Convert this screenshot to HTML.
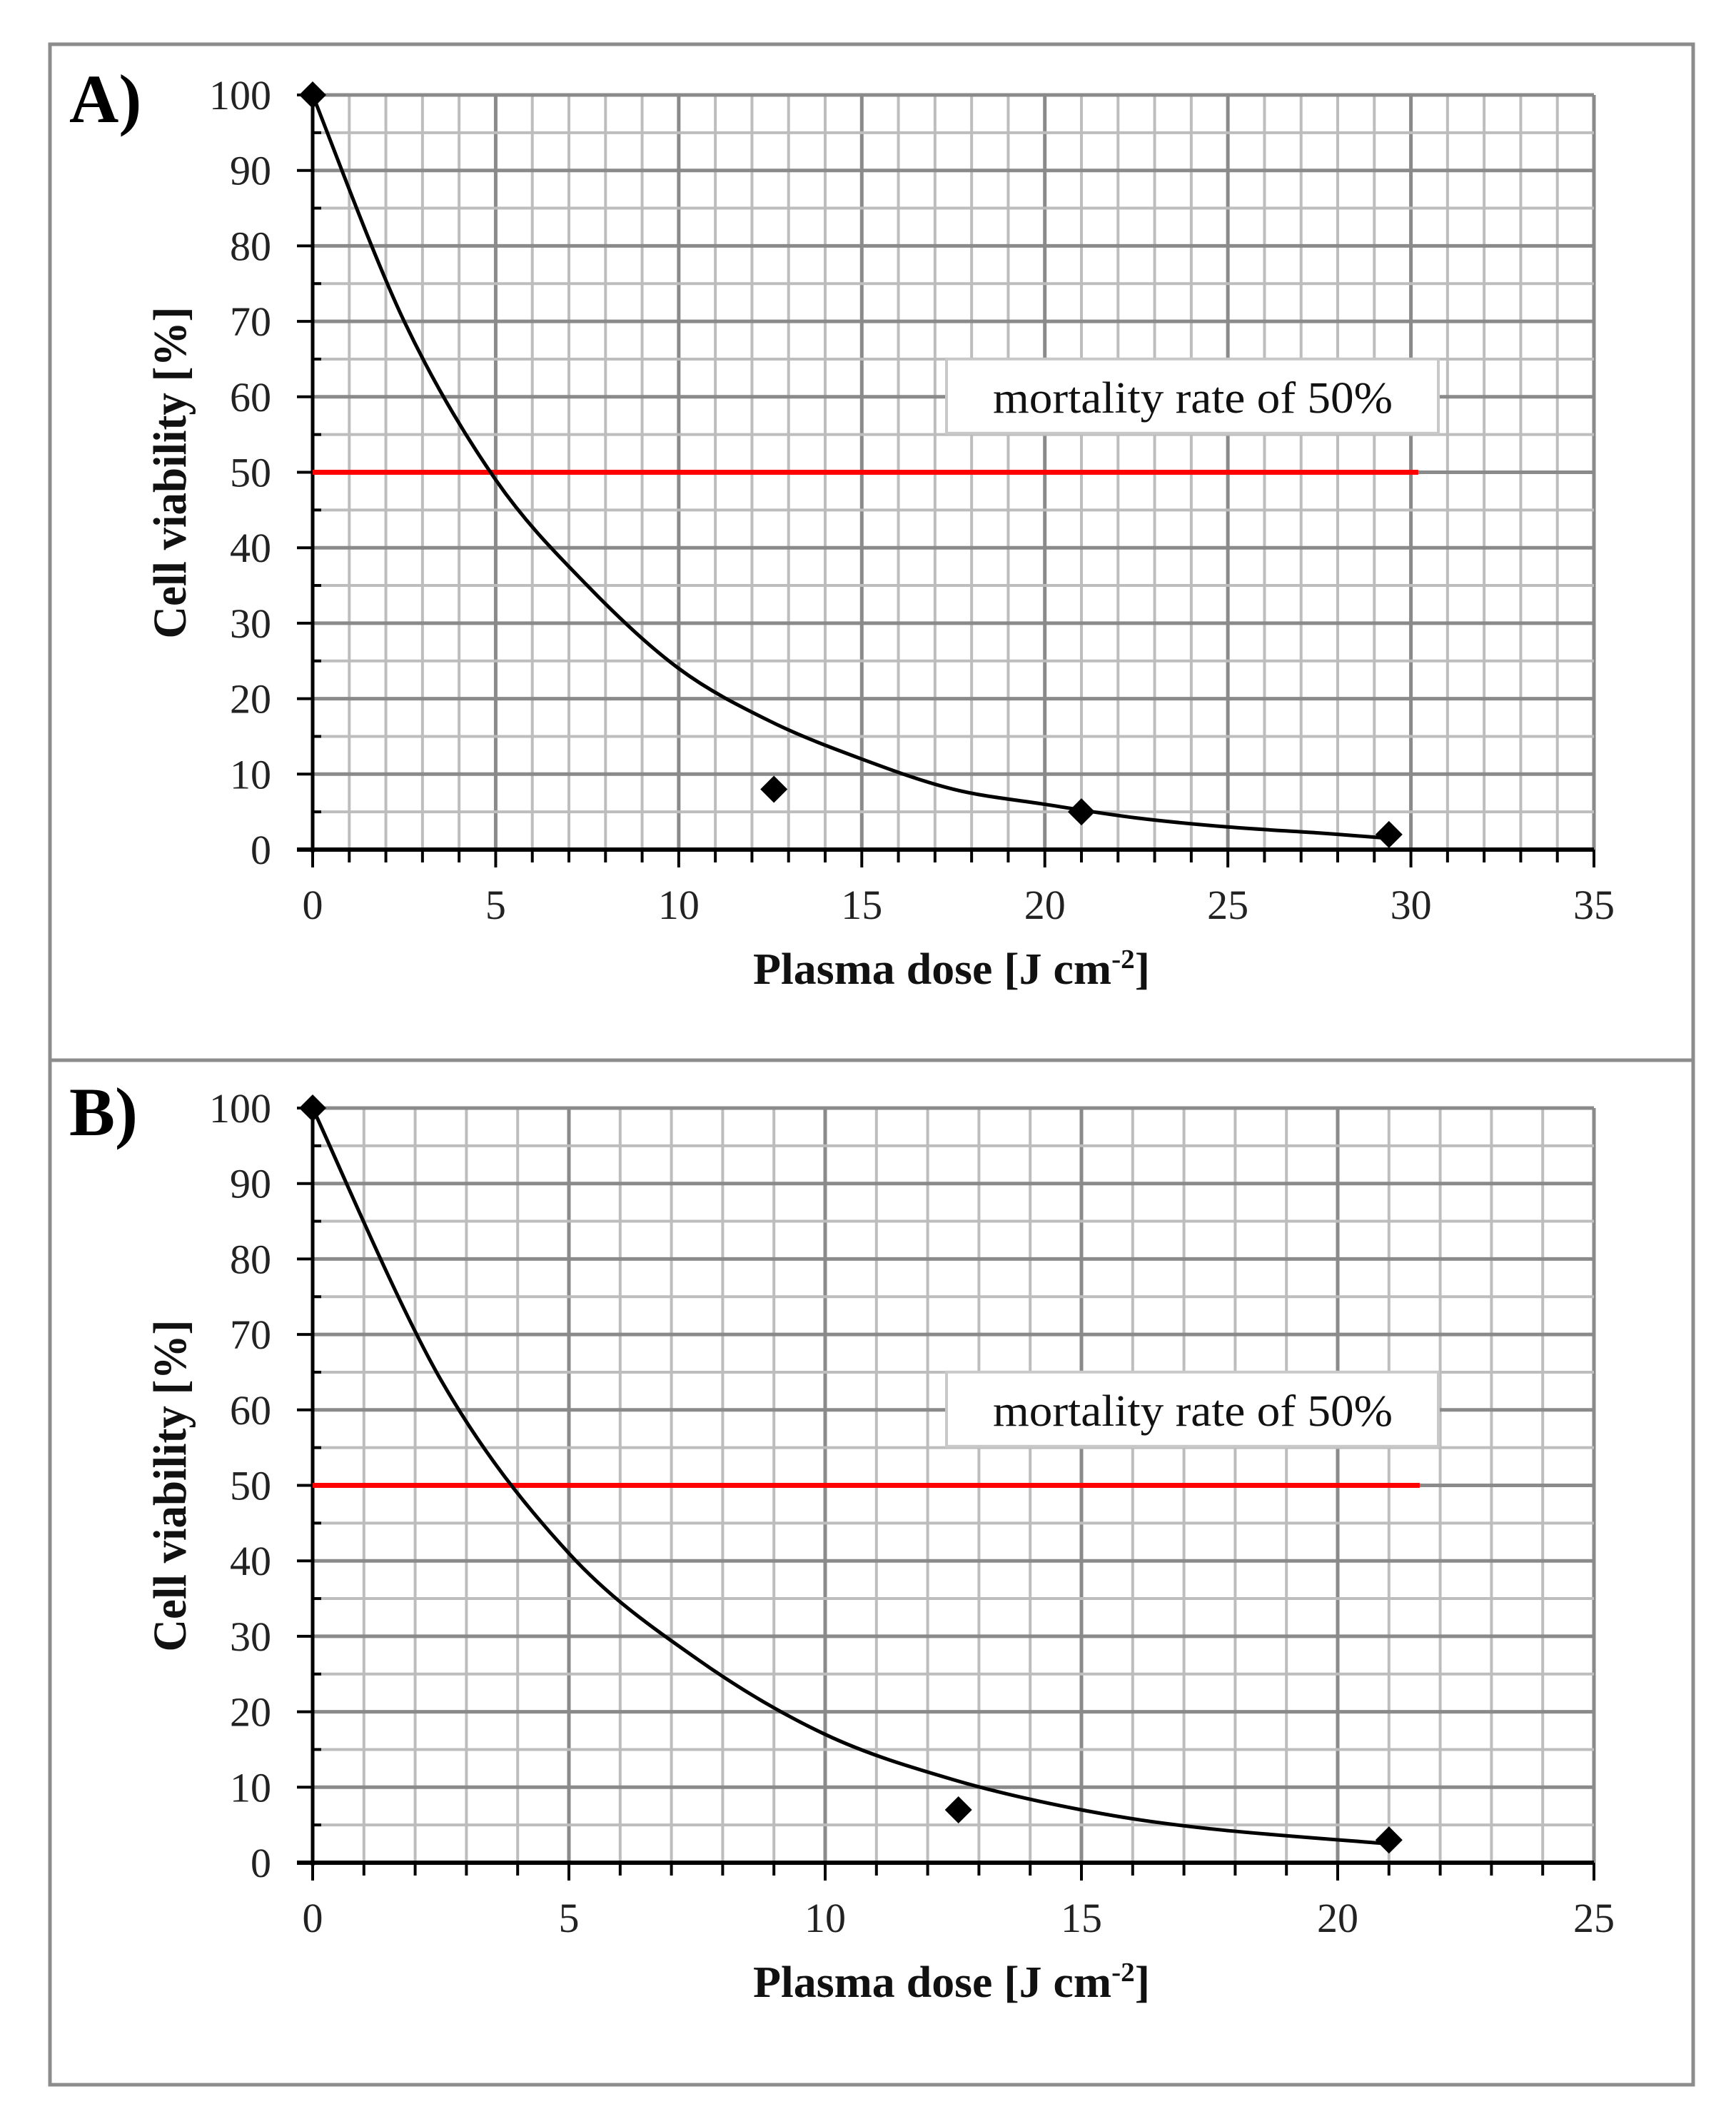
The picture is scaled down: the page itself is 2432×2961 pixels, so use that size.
<!DOCTYPE html>
<html><head><meta charset="utf-8"><style>
html,body{margin:0;padding:0;background:#fff;}
svg{display:block;}
text{font-family:"Liberation Serif",serif;}
</style></head><body>
<svg id="fig" width="2432" height="2961" viewBox="0 0 2432 2961" xmlns="http://www.w3.org/2000/svg">
<rect x="70" y="62" width="2302" height="2858" fill="none" stroke="#8c8c8c" stroke-width="5"/>
<line x1="70" y1="1485" x2="2372" y2="1485" stroke="#8c8c8c" stroke-width="5"/>
<g id="panelA"></g>
<g id="panelB"></g>
</svg>
<script>
// Panel A data
const aXTicks = [0,5,10,15,20,25,30,35];
const aYTicks = [0,10,20,30,40,50,60,70,80,90,100];
const aPointsX = [0,12.6,21,29.4];
const aPointsY = [100,8,5,2];
const aCurveX = [0,2.5,5,7.5,10,12.5,15,17.5,20,22.5,25,27.5,29.4];
const aCurveY = [100,70,49,35,24,17,12,8,6,4.2,3,2.2,1.5];
const aThresholdY = [50];
const aThresholdX = [0,30.2];
// Panel B data
const bXTicks = [0,5,10,15,20,25];
const bYTicks = [0,10,20,30,40,50,60,70,80,90,100];
const bPointsX = [0,12.6,21];
const bPointsY = [100,7,3];
const bCurveX = [0,2.5,5,7.5,10,12.5,15,17.5,21];
const bCurveY = [100,64,41,27,17,11,7,4.5,2.5];
const bThresholdY = [50];
const bThresholdX = [0,21.6];

const NS="http://www.w3.org/2000/svg";
function mk(tag,attrs,parent){const e=document.createElementNS(NS,tag);for(const k in attrs)e.setAttribute(k,attrs[k]);parent.appendChild(e);return e;}

function panel(g,label,xTicks,yTicks,px,py,cx,cy,thY,thX,top){
  const left=438,right=2233,bottom=top+1057;
  const xmax=xTicks[xTicks.length-1], ymax=yTicks[yTicks.length-1];
  const X=v=>left+(right-left)*v/xmax;
  const Y=v=>bottom-(bottom-top)*v/ymax;
  for(let v=0;v<=xmax;v+=1){
    const major=v%5===0;
    const l=mk('line',{x1:X(v),y1:top,x2:X(v),y2:bottom,stroke:major?'#8a8a8a':'#bdbdbd','stroke-width':major?5:4},g);
    
    
  }
  for(let v=0;v<=ymax;v+=5){
    const major=v%10===0;
    const l=mk('line',{x1:left,y1:Y(v),x2:right,y2:Y(v),stroke:major?'#8a8a8a':'#bdbdbd','stroke-width':major?5:4},g);
    
    
  }
  const ya=mk('line',{x1:left,y1:top,x2:left,y2:bottom+4,stroke:'#000','stroke-width':5},g);
  
  
  const xa=mk('line',{x1:left-22,y1:bottom,x2:right,y2:bottom,stroke:'#000','stroke-width':6},g);
  
  
  for(let v=0;v<=xmax;v+=1){
    const major=v%5===0;
    const t=mk('line',{x1:X(v),y1:bottom,x2:X(v),y2:bottom+(major?25:18),stroke:'#000','stroke-width':4},g);
    
    
  }
  xTicks.forEach(v=>{
    const t=mk('text',{x:X(v),y:bottom+97,'font-size':58,'text-anchor':'middle',fill:'#222'},g);
    t.textContent=v;
    
    
  });
  for(let v=0;v<=ymax;v+=5){
    const major=v%10===0;
    const t=mk('line',{x1:major?left-22:left,y1:Y(v),x2:major?left:left+12,y2:Y(v),stroke:'#000','stroke-width':4},g);
    
    
  }
  yTicks.forEach(v=>{
    const t=mk('text',{x:left-58,y:Y(v)+20,'font-size':58,'text-anchor':'end',fill:'#222'},g);
    t.textContent=v;
    
    
  });
  const bx=mk('rect',{x:1326,y:Y(60)-53,width:689,height:104,fill:'#fff',stroke:'#c8c8c8','stroke-width':4},g);
  
  
  const at=mk('text',{x:1391,y:Y(60)+22,'font-size':62,textLength:560,lengthAdjust:'spacingAndGlyphs',fill:'#111'},g);
  at.textContent='mortality rate of 50%';
  
  
  const th=mk('line',{x1:X(thX[0]),y1:Y(thY[0]),x2:X(thX[1]),y2:Y(thY[0]),stroke:'#ff0000','stroke-width':7},g);
  
  
  const P=cx.map((v,i)=>[X(v),Y(cy[i])]);
  let d=`M${P[0][0]},${P[0][1]}`;
  for(let i=0;i<P.length-1;i++){
    const p0=P[i-1]||P[i],p1=P[i],p2=P[i+1],p3=P[i+2]||P[i+1];
    const c1=[p1[0]+(p2[0]-p0[0])/6,p1[1]+(p2[1]-p0[1])/6];
    const c2=[p2[0]-(p3[0]-p1[0])/6,p2[1]-(p3[1]-p1[1])/6];
    d+=` C${c1[0]},${c1[1]} ${c2[0]},${c2[1]} ${p2[0]},${p2[1]}`;
  }
  const cv=mk('path',{d:d,fill:'none',stroke:'#000','stroke-width':5},g);
  
  
  px.forEach((v,i)=>{
    const x=X(v),y=Y(py[i]),s=19;
    const m=mk('polygon',{points:`${x},${y-s} ${x+s},${y} ${x},${y+s} ${x-s},${y}`,fill:'#000'},g);
    
    
  });
  const pl=mk('text',{x:97,y:top+38,'font-size':96,'font-weight':'bold',fill:'#000'},g);
  pl.textContent=label;
  
  
  const xt=mk('text',{x:1055,y:bottom+188,'font-size':62,'font-weight':'bold',textLength:556,lengthAdjust:'spacingAndGlyphs',fill:'#111'},g);
  xt.innerHTML='Plasma dose [J cm<tspan dy="-22" font-size="38">-2</tspan><tspan dy="22">]</tspan>';
  
  
  const cyy=top+529;
  const yt=mk('text',{x:0,y:0,'font-size':66,'font-weight':'bold','text-anchor':'middle',textLength:465,lengthAdjust:'spacingAndGlyphs',fill:'#111',transform:`translate(260,${cyy}) rotate(-90)`},g);
  yt.textContent='Cell viability  [%]';
  
  
}
panel(document.getElementById('panelA'),'A)',aXTicks,aYTicks,aPointsX,aPointsY,aCurveX,aCurveY,aThresholdY,aThresholdX,133);
panel(document.getElementById('panelB'),'B)',bXTicks,bYTicks,bPointsX,bPointsY,bCurveX,bCurveY,bThresholdY,bThresholdX,1552);
</script>
</body></html>
